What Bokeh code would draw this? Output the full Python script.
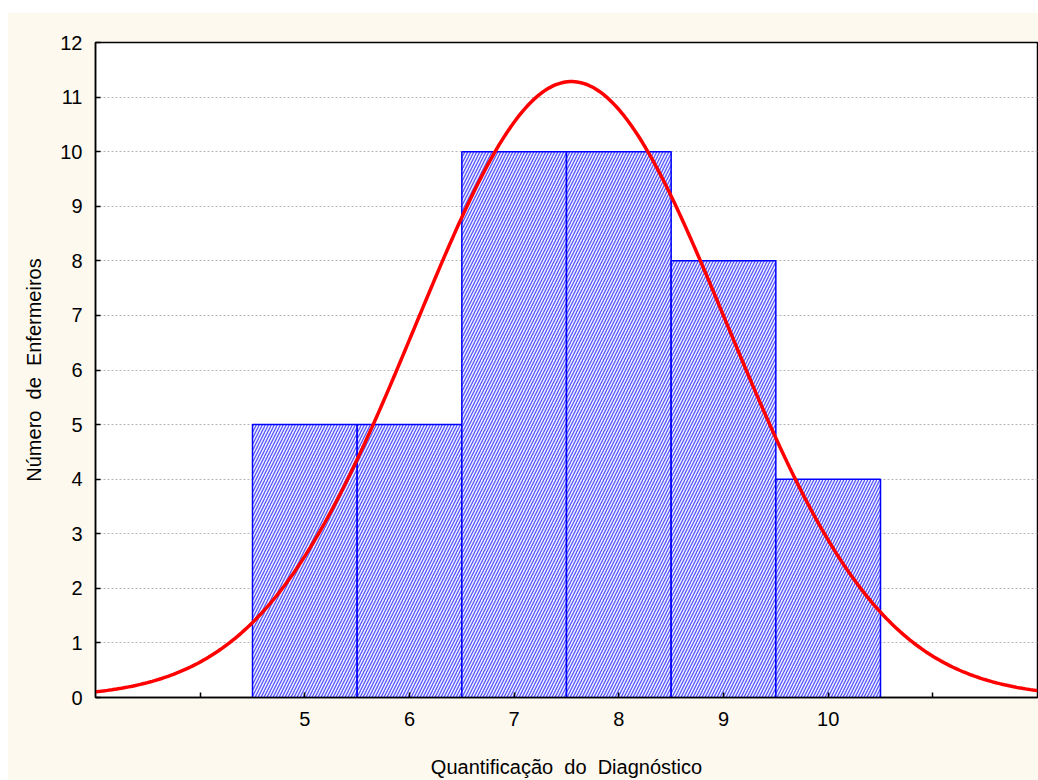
import numpy as np
from bokeh.plotting import figure
from bokeh.models import FixedTicker, Range1d, Spacer
from bokeh.layouts import column, row
from bokeh.embed import file_html
from bokeh.resources import INLINE

# Data
scores = [5, 6, 7, 8, 9, 10]
counts = [5, 5, 10, 10, 8, 4]
x_label_ticks = [5, 6, 7, 8, 9, 10]
x_plain_ticks = [4, 11]
y_ticks = list(range(0, 13))

x_title = "Quantificação \u00a0do \u00a0Diagnóstico"
y_title = "Número \u00a0de \u00a0Enfermeiros"

# Fitted normal curve from histogram counts
sc = np.array(scores, dtype=float)
ct = np.array(counts, dtype=float)
n = ct.sum()
mean = (sc * ct).sum() / n
sd = np.sqrt(((sc - mean) ** 2 * ct).sum() / (n - 1))
xs = np.linspace(3, 12, 400)
ys = n * 1.0 / (sd * np.sqrt(2 * np.pi)) * np.exp(-0.5 * ((xs - mean) / sd) ** 2)

FONT = "Liberation Sans"

p = figure(width=1031, height=768, output_backend="svg", toolbar_location=None,
           x_range=Range1d(3, 12), y_range=Range1d(0, 12),
           min_border_left=88, min_border_right=1, min_border_top=30, min_border_bottom=83)
p.border_fill_color = "#FDF9EF"
p.background_fill_color = "white"
p.outline_line_color = "black"
p.outline_line_width = 1.5

left = [s - 0.5 for s in scores]
right = [s + 0.5 for s in scores]
p.quad(left=left, right=right, bottom=0, top=counts,
       fill_color="#f2f2ff", line_color="#0000ff", line_width=1.5,
       hatch_pattern="/", hatch_color="#3a3aff", hatch_scale=6, hatch_weight=1.3, hatch_alpha=0.85)

p.line(xs, ys, line_color="#ff0000", line_width=3.5)

p.xgrid.grid_line_color = None
p.ygrid.grid_line_color = "#b4b4b4"
p.ygrid.grid_line_dash = "2 2"
p.ygrid.grid_line_width = 1

p.xaxis.ticker = FixedTicker(ticks=x_label_ticks, minor_ticks=x_plain_ticks)
p.yaxis.ticker = FixedTicker(ticks=y_ticks)

for ax in (p.xaxis[0], p.yaxis[0]):
    ax.major_tick_in = 5
    ax.major_tick_out = 0
    ax.minor_tick_in = 5
    ax.minor_tick_out = 0
    ax.minor_tick_line_width = 1.5
    ax.minor_tick_line_color = "black"
    ax.axis_line_width = 1.5
    ax.major_tick_line_width = 1.5
    ax.major_label_text_font = FONT
    ax.major_label_text_font_size = "20px"
    ax.major_label_text_color = "black"
    ax.axis_label_text_font = FONT
    ax.axis_label_text_font_size = "20px"
    ax.axis_label_text_font_style = "normal"
    ax.axis_label_text_color = "black"

p.yaxis.minor_tick_line_color = None

p.xaxis.axis_label = x_title
p.yaxis.axis_label = y_title
p.xaxis.major_label_standoff = 14
p.xaxis.axis_label_standoff = 27
p.yaxis.major_label_standoff = 13
p.yaxis.axis_label_standoff = 12

layout = column(Spacer(height=12), row(Spacer(width=7), p))

open("out.html", "w").write(file_html(layout, INLINE))
